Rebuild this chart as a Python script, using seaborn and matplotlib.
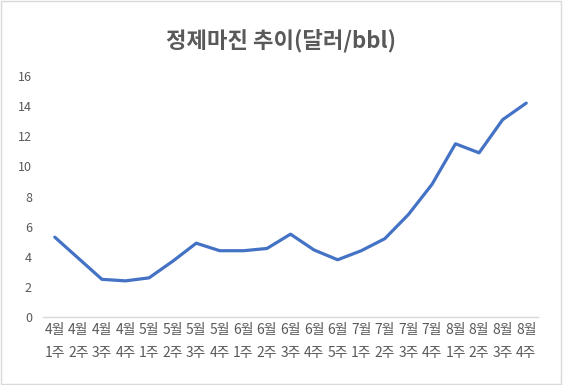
import pandas as pd
import numpy as np
import matplotlib
matplotlib.use('Agg')
import matplotlib.pyplot as plt
import seaborn as sns

# --- 데이터 ---
months = ['4월'] * 4 + ['5월'] * 4 + ['6월'] * 5 + ['7월'] * 4 + ['8월'] * 4
weeks = ['1주', '2주', '3주', '4주',
         '1주', '2주', '3주', '4주',
         '1주', '2주', '3주', '4주', '5주',
         '1주', '2주', '3주', '4주',
         '1주', '2주', '3주', '4주']
margin = [5.3, 3.9, 2.5, 2.4, 2.6, 3.7, 4.9, 4.4, 4.4, 4.55, 5.5,
          4.45, 3.8, 4.4, 5.2, 6.8, 8.8, 11.5, 10.9, 13.1, 14.2]

labels = [m + '\n' + w for m, w in zip(months, weeks)]
df = pd.DataFrame({'label': labels, 'margin': margin})
df['pos'] = np.arange(len(df))

sns.set_style('white')
plt.rcParams['font.family'] = ['Noto Sans CJK KR', 'DejaVu Sans']

grey = '#595959'
fig = plt.figure(figsize=(5.63, 3.85), dpi=100)
ax = fig.add_axes([0.0764, 0.1766, 0.8792, 0.626])

sns.lineplot(x='pos', y='margin', data=df, ax=ax, color='#4472C4', linewidth=2.3)

ax.set_xlim(-0.5, len(df) - 0.5)
ax.set_ylim(0, 16)
ax.set_yticks(range(0, 17, 2))
ax.set_xticks(df['pos'])
ax.set_xticklabels(df['label'], linespacing=1.9)
ax.tick_params(axis='both', length=0, colors=grey)
ax.tick_params(axis='x', pad=4, labelsize=10)
ax.tick_params(axis='y', pad=8, labelsize=9)
ax.set_xlabel('')
ax.set_ylabel('')

for s in ['top', 'right', 'left']:
    ax.spines[s].set_visible(False)
ax.spines['bottom'].set_color('#D9D9D9')
ax.spines['bottom'].set_linewidth(1)

fig.text(0.5, 0.895, '정제마진 추이(달러/bbl)', ha='center', va='center',
         fontsize=16, fontweight='bold', color=grey)

# 차트 테두리
fig.patches.append(plt.Rectangle((0.002, 0.003), 0.995, 0.994, transform=fig.transFigure,
                                 fill=False, edgecolor='#D9D9D9', linewidth=1))

fig.savefig('out.png', dpi=100)
